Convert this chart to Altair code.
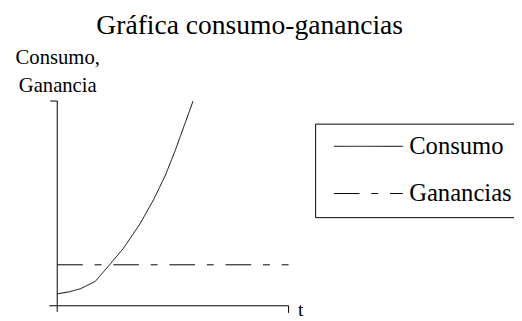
import altair as alt
import pandas as pd

# ---- data ----
title_text = "Gráfica consumo-ganancias"
y_title = ["Consumo,", "Ganancia"]
x_title = "t"
series = ["Consumo", "Ganancias"]

consumo_t = [0, 0.6, 1.18, 1.93, 2.65, 3.35, 4.2, 4.9, 5.5, 6.0, 6.45, 6.9]
consumo_v = [0.58, 0.68, 0.83, 1.19, 1.99, 2.79, 3.99, 5.19, 6.39, 7.6, 8.8, 10.0]
ganancias_t = [0, 11.75]
ganancias_v = [2.0, 2.0]

# hand-drawn axis lines (data units)
rule_x = [0, -0.4, -0.35, 11.75]
rule_x2 = [0, 11.75, 0, 11.75]
rule_y = [-0.3, 0, 10, 0]
rule_y2 = [10, 0, 10, -0.35]

FONT = "Liberation Serif"

lines = pd.DataFrame({
    "t": consumo_t + ganancias_t,
    "v": consumo_v + ganancias_v,
    "serie": [series[0]] * len(consumo_t) + [series[1]] * len(ganancias_t),
})
rules = pd.DataFrame({"x": rule_x, "x2": rule_x2, "y": rule_y, "y2": rule_y2})

xscale = alt.Scale(domain=[-0.4, 11.85], nice=False, zero=False)
yscale = alt.Scale(domain=[-0.385, 10], nice=False, zero=False)

xaxis = alt.Axis(title=x_title, domain=False, ticks=False, labels=False, grid=False,
                 titleFont=FONT, titleFontSize=20, titleFontWeight="normal", titleColor="black",
                 titleX=252, titleY=2, titleAlign="left", titleBaseline="alphabetic")
yaxis = alt.Axis(title=y_title, domain=False, ticks=False, labels=False, grid=False,
                 titleAngle=0, titleX=8, titleY=-38, titleAlign="center", titleBaseline="alphabetic",
                 titleFont=FONT, titleFontSize=21, titleFontWeight="normal", titleColor="black",
                 titleLineHeight=28)

# custom line symbol: 70px long with size 306.25 (sqrt = 17.5, unit = 8.75px)
legend = alt.Legend(title=None, orient="none", legendX=270, legendY=23,
                    strokeColor="black", fillColor="white", padding=10.5,
                    symbolType="M-0.45,0H7.55", symbolSize=306.25, symbolStrokeWidth=1,
                    symbolStrokeColor="black", symbolFillColor="transparent",
                    labelFont=FONT, labelFontSize=25,
                    labelColor="black", labelOffset=60, rowPadding=22, cornerRadius=0)

line_layer = alt.Chart(lines).mark_line(color="black", strokeWidth=1).encode(
    x=alt.X("t:Q", scale=xscale, axis=xaxis),
    y=alt.Y("v:Q", scale=yscale, axis=yaxis),
    strokeDash=alt.StrokeDash("serie:N", scale=alt.Scale(domain=series, range=[[1, 0], [26, 12, 7, 12]]),
                              legend=legend),
)

rule_layer = alt.Chart(rules).mark_rule(color="black", strokeWidth=1).encode(
    x=alt.X("x:Q", scale=xscale, axis=xaxis),
    x2="x2:Q",
    y=alt.Y("y:Q", scale=yscale, axis=yaxis),
    y2="y2:Q",
)

chart = alt.layer(rule_layer, line_layer).properties(
    width=245, height=216,
    title=alt.TitleParams(text=title_text, font=FONT, fontSize=28, fontWeight="normal", color="black",
                          anchor="middle", frame="group", offset=16, dx=81, dy=31, baseline="alphabetic"),
    autosize=alt.AutoSizeParams(type="none"),
    padding={"left": 42, "top": 92, "right": 227, "bottom": 5},
).configure(background="white", view=alt.ViewConfig(stroke="transparent"))

chart.save("out.html", embed_options={"renderer": "svg", "actions": False})
